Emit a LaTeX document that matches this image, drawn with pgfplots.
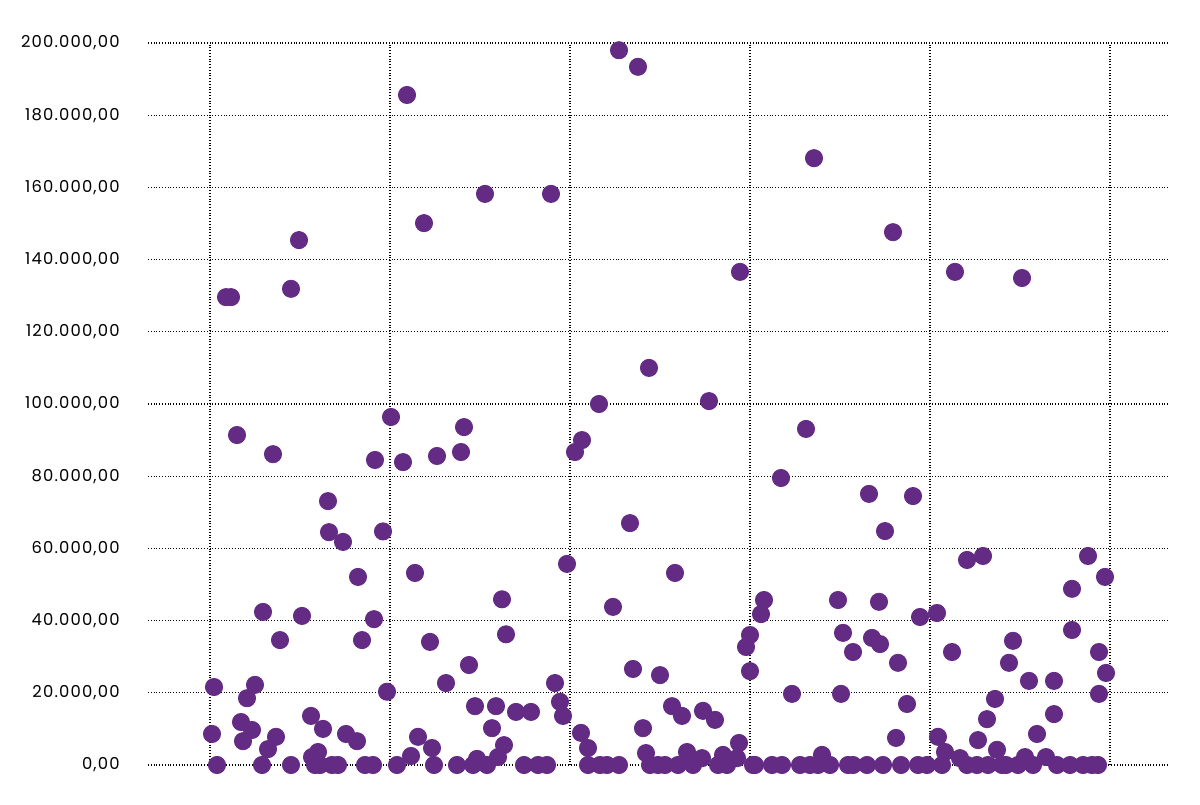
\documentclass[border=0pt]{standalone}
\usepackage{pgfplots}
\pgfplotsset{compat=1.18}
\usepackage{fontspec}
\setmainfont{Poppins}
\definecolor{dotpurple}{RGB}{99,43,131}
\begin{document}
\begin{tikzpicture}
\begin{axis}[
  at={(0,0)}, anchor=south west,
  scale only axis,
  width=510pt, height=361pt,
  xmin=148, xmax=1168, ymin=0, ymax=200,
  xtick={210,390,570,750,930,1110},
  xticklabels={},
  ytick={0,20,40,60,80,100,120,140,160,180,200},
  yticklabels={{0,00},{20.000,00},{40.000,00},{60.000,00},{80.000,00},{100.000,00},{120.000,00},{140.000,00},{160.000,00},{180.000,00},{200.000,00}},
  yticklabel style={font=\fontsize{8.2}{10}\selectfont\addfontfeature{LetterSpace=7}, inner sep=0pt, anchor=east, text=black},
  yticklabel shift=14pt,
  major tick length=0pt,
  axis line style={draw=none},
  grid=major,
  major grid style={black, densely dotted, line width=0.55pt},
  clip=false,
]
\addplot[only marks, mark=*, mark size=4.3pt, mark options={fill=dotpurple, draw=dotpurple}] coordinates {
(212,8.6) (214,21.6) (217,0) (226,129.6) (231,129.6) (237,91.4) (241,11.9) (243,6.6)
(247,18.5) (252,9.7) (255,22.2) (262,0) (263,42.4) (268,4.4) (273,86.1) (276,7.8)
(280,34.6) (291,131.9) (291,0) (299,145.4) (302,41.3) (311,13.6) (312,2.2) (315,0)
(318,3.6) (320,0) (323,10.0) (328,73.1) (329,64.5) (332,0) (338,0) (343,61.8)
(346,8.6) (357,6.6) (358,52.1) (362,34.6) (365,0) (373,0) (374,40.4) (375,84.5)
(383,64.7) (387,20.3) (391,96.4)
(397,0) (403,83.9) (407,185.6) (411,2.5) (415,53.2) (418,7.8) (424,150.1) (430,34.1)
(432,4.7) (434,0) (437,85.6) (446,22.7) (457,0) (461,86.7) (464,93.6) (469,27.7)
(473,0) (475,16.3) (477,1.7) (485,158.2) (487,0) (492,10.2) (496,16.3) (498,2.2)
(502,45.9) (504,5.5) (506,36.2) (516,14.7) (524,0) (531,14.7) (538,0) (547,0)
(551,158.2) (555,22.7) (560,17.5) (563,13.6) (567,55.7)
(575,86.7) (581,8.9) (582,90.0) (588,4.7) (588,0) (599,100.0) (600,0) (607,0)
(613,43.8) (619,0) (619,198.0) (630,67.0) (633,26.6) (638,193.4) (643,10.2) (646,3.3)
(649,110.0) (650,0) (658,0) (660,24.9) (665,0) (672,16.3) (675,53.2) (678,0)
(682,13.6) (687,3.6) (693,0) (702,1.9) (703,15.0) (709,100.8) (715,12.5) (718,0)
(723,2.8) (727,0) (737,1.9) (739,6.1) (740,136.6) (746,32.7) (750,36.0) (750,26.0) (753,0)
(755,0) (761,41.8) (764,45.7) (772,0) (781,79.5) (782,0) (792,19.7) (800,0)
(806,93.1) (810,0) (814,168.1) (818,0) (822,2.8) (830,0) (838,45.7) (841,19.7)
(843,36.6) (848,0) (853,31.3) (853,0) (867,0) (869,75.1) (872,35.2) (879,45.2)
(880,33.5) (883,0) (885,64.8) (893,147.6) (896,7.5) (898,28.3) (901,0) (907,16.9)
(913,74.5) (918,0) (920,41.0) (927,0) (937,42.1) (938,7.8)
(942,0) (945,3.6) (952,31.3) (955,136.6) (960,1.9) (967,0) (967,56.8) (977,0)
(978,6.9) (983,57.9) (987,12.7) (988,0) (995,18.3) (997,4.2) (1002,0) (1006,0)
(1009,28.3) (1013,34.4) (1018,0) (1022,134.9) (1025,2.2) (1029,23.3) (1033,0) (1037,8.6)
(1046,2.2) (1054,23.3) (1054,14.1) (1057,0) (1070,0) (1072,48.8) (1072,37.4) (1083,0)
(1088,57.9) (1092,0) (1098,0) (1099,31.3) (1099,19.7) (1105,52.1) (1106,25.5)
};
\end{axis}
\path[use as bounding box] (-74pt,-19.5pt) rectangle (526pt,382.5pt);
\end{tikzpicture}
\end{document}
